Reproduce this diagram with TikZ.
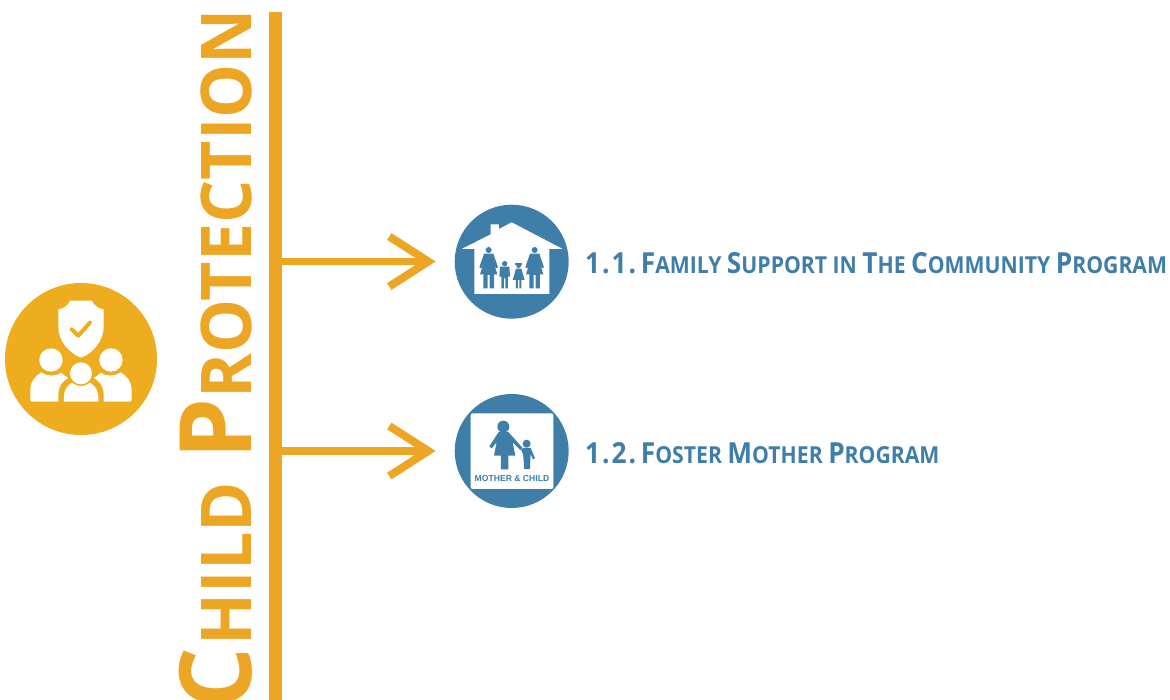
\documentclass[tikz,border=0pt]{standalone}
\usepackage{fontspec}
\setmainfont{Open Sans}[BoldFont={Open Sans Bold},BoldFeatures={FakeStretch=0.972}]
\newfontfamily\labfont{Open Sans}[BoldFont={Open Sans Bold},BoldFeatures={FakeStretch=0.905}]
\newfontfamily\badgefont{Liberation Sans}
\usetikzlibrary{arrows.meta}
\definecolor{amber}{HTML}{ECA624}
\definecolor{amberdisc}{HTML}{EEAD1E}
\definecolor{steel}{HTML}{3E7EA9}
\newcommand{\bigc}[1]{{\fontsize{100}{100}\selectfont #1}}
\newcommand{\smac}[1]{{\fontsize{70}{70}\selectfont #1}}
\newcommand{\lab}[1]{{\fontsize{29}{29}\selectfont #1}}
\newcommand{\labs}[1]{{\fontsize{23.4}{23.4}\selectfont #1}}
\tikzset{
  x=1pt,y=-1pt,
  disc/.style={circle,minimum size=#1,inner sep=0,outer sep=0,fill=steel},
  barline/.style={draw=amber,line width=13.3pt},
  arrowline/.style={draw=amber,line width=7.7pt,shorten >=19pt,-{Straight Barb[length=39pt,width=50pt,line width=8pt,sharp]}},
  title/.style={text=amber,font=\bfseries,inner sep=0,rotate=90,anchor=base east},
  proglabel/.style={text=steel,font=\labfont\bfseries,inner sep=0,anchor=base west},
  icon/.style={shift={#1},x=.3333pt,y=-.3333pt}
}
\begin{document}
\begin{tikzpicture}
\useasboundingbox (0,0) rectangle (1170,700);
\clip (0,0) rectangle (1170,700);
% headline
\node[title] (title) at (251.5,8.8) {\bigc{C}\kern2pt\smac{HILD\ }\kern5pt\bigc{P}\smac{ROTECTION}};
\coordinate (bartop) at (275.6,12);
\coordinate (barbot) at (275.6,700);
\draw[barline] (bartop) -- (barbot);
% protection disc
\node[disc=152pt,fill=amberdisc] (shield) at (81,359) {};
\begin{scope}[icon={(0,270)}]
\fill[white] (243,92) -- (276,92) .. controls (282,108) and (298,116) .. (311,118) -- (311,170) .. controls (311,215) and (275,252) .. (243,263) .. controls (211,252) and (175,215) .. (175,170) -- (175,118) .. controls (188,116) and (204,108) .. (210,92) -- cycle;
\draw[amberdisc,line width=4pt,line cap=round,line join=round] (215,178) -- (235,197) -- (270,158);
\fill[white] (153,270) circle[radius=35];
\fill[white] (333,270) circle[radius=35];
\fill[white] (243,310) circle[radius=33];
\fill[white] (96,395) .. controls (92,395) and (91,392) .. (91,388) -- (91,360) .. controls (91,335) and (105,318) .. (124,307) .. controls (142,320) and (168,320) .. (184,308) .. controls (190,315) and (198,320) .. (205,324) .. controls (185,335) and (175,350) .. (175,375) -- (175,395) -- cycle;
\fill[white] (390,395) .. controls (394,395) and (395,392) .. (395,388) -- (395,360) .. controls (395,335) and (381,318) .. (362,307) .. controls (344,320) and (318,320) .. (302,308) .. controls (296,315) and (288,320) .. (281,324) .. controls (301,335) and (311,350) .. (311,375) -- (311,395) -- cycle;
\fill[white] (192,395) -- (192,378) .. controls (192,362) and (202,345) .. (216,338) .. controls (232,352) and (254,352) .. (270,338) .. controls (284,345) and (295,362) .. (295,378) -- (295,395) -- cycle;
\end{scope}
% arrows and discs
\node[disc=114pt] (family) at (511.7,261.7) {};
\node[disc=114pt] (foster) at (511.7,451) {};
\coordinate (stemA) at (282,261.5);
\coordinate (stemB) at (282,451);
\draw[arrowline] (stemA) -- (stemA -| family.west);
\draw[arrowline] (stemB) -- (stemB -| foster.west);
% house icon
\begin{scope}[icon={(440,195)}]
\fill[white] (65,162) -- (152,118) -- (152,88) -- (177,88) -- (177,102) -- (215,82) -- (368,162) -- (328,162) -- (328,297) -- (103,297) -- (103,162) -- cycle;
\foreach \cx in {146,284}{
\begin{scope}[shift={(\cx,0)}]
\fill[steel] (0,165) circle[radius=9];
\fill[steel] (-14,176) -- (14,176) -- (28,217) -- (22,220) -- (13,197) -- (26,238) -- (16,238) -- (16,280) -- (3,280) -- (3,240) -- (-3,240) -- (-3,280) -- (-16,280) -- (-16,238) -- (-26,238) -- (-13,197) -- (-22,220) -- (-28,217) -- cycle;
\end{scope}}
\fill[steel] (194,206) circle[radius=8];
\fill[steel] (180,215) -- (208,215) -- (210,245) -- (204,245) -- (204,280) -- (196,280) -- (196,250) -- (192,250) -- (192,280) -- (184,280) -- (184,245) -- (178,245) -- cycle;
\fill[steel] (236,212) circle[radius=7];
\fill[steel] (225,204) -- (247,204) -- (247,209) -- (225,209) -- cycle;
\fill[steel] (228,221) -- (244,221) -- (254,255) -- (244,255) -- (244,280) -- (238,280) -- (238,255) -- (234,255) -- (234,280) -- (228,280) -- (228,255) -- (218,255) -- cycle;
\end{scope}
% mother and child icon
\begin{scope}[icon={(440,385)}]
\fill[white,rounded corners=2pt] (92,85) rectangle (340,312);
\fill[steel] (190,125) circle[radius=18];
\fill[steel] (176,141) -- (205,141) -- (247,188) -- (241,195) -- (218,172) -- (226,212) -- (205,212) -- (205,253) -- (183,253) -- (183,212) -- (162,212) -- (170,172) -- (155,190) -- (148,184) -- cycle;
\fill[steel] (260,176) circle[radius=12];
\fill[steel] (249,189) -- (272,189) -- (285,220) -- (279,223) -- (272,207) -- (271,225) -- (270,252) -- (252,252) -- (251,225) -- (249,207) -- (243,195) -- cycle;
\node[text=steel,font=\badgefont\bfseries\fontsize{8.6}{9}\selectfont,inner sep=0] (badge) at (216,282) {MOTHER \& CHILD};
\end{scope}
% labels
\node[proglabel] (labA) at (585,273.8) {\lab{1\kern2pt.\kern2pt1\kern2pt.\kern2pt\ \kern-4pt F}\labs{AMILY\ }\lab{S}\labs{UPPORT IN\ }\lab{T}\labs{HE\ }\lab{C}\labs{OMMUNITY\ }\lab{P}\labs{ROGRAM}};
\node[proglabel] (labB) at (585,463) {\lab{1\kern2pt.\kern2pt2\kern2pt.\kern2pt\ \kern-4pt F}\labs{OSTER\ }\lab{M}\labs{OTHER\ }\lab{P}\labs{ROGRAM}};
\end{tikzpicture}
\end{document}
